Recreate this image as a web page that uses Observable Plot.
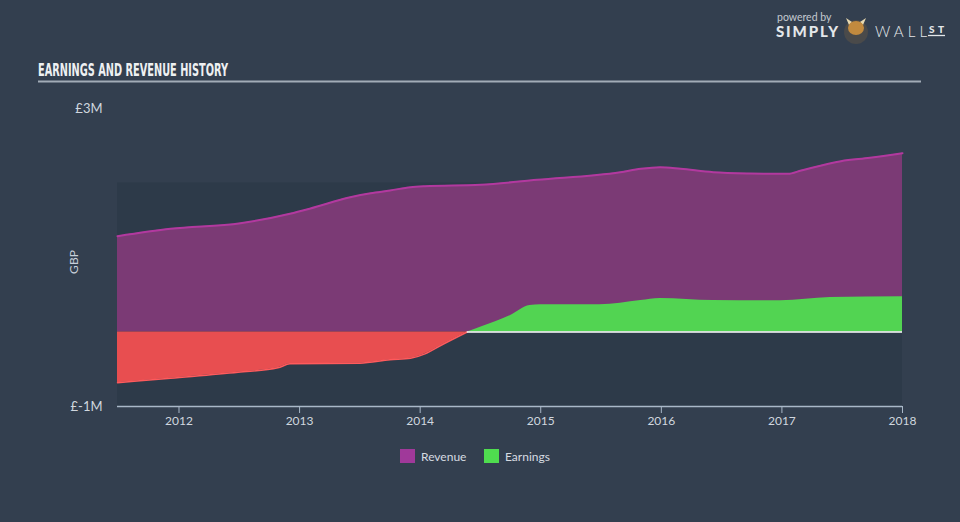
<!DOCTYPE html>
<html>
<head>
<meta charset="utf-8">
<script src="https://cdn.jsdelivr.net/npm/d3@7"></script>
<script src="https://cdn.jsdelivr.net/npm/@observablehq/plot@0.6"></script>
<style>
  html, body { margin: 0; padding: 0; background: #333f4f; }
  #wrap { position: relative; width: 960px; height: 522px; overflow: hidden; background: #333f4f; }
  #chart { position: absolute; left: 0; top: 0; }
  #overlay { position: absolute; left: 0; top: 0; pointer-events: none; }
</style>
</head>
<body>
<div id="wrap">
  <div id="chart"></div>
  <svg id="overlay" width="960" height="522" xmlns="http://www.w3.org/2000/svg">
    <text x="38" y="76" font-family="Liberation Sans Narrow, DejaVu Sans Condensed, sans-serif" font-weight="bold" font-size="18" fill="#eef0f2" textLength="190" lengthAdjust="spacingAndGlyphs">EARNINGS AND REVENUE HISTORY</text>
    <line x1="38" x2="921" y1="81.5" y2="81.5" stroke="#a2acb7" stroke-width="2"/>
    <text x="78" y="262" transform="rotate(-90 78 262)" text-anchor="middle" font-family="Lato, sans-serif" font-size="12" fill="#c8d0da">GBP</text>
    <!-- legend -->
    <rect x="400" y="449" width="15" height="14" fill="#a0399a"/>
    <text x="421" y="461" font-family="Lato, sans-serif" font-size="12" fill="#d6dbe1">Revenue</text>
    <rect x="484" y="449" width="15" height="14" fill="#4fdd4f"/>
    <text x="505" y="461" font-family="Lato, sans-serif" font-size="12" fill="#d6dbe1">Earnings</text>
    <!-- logo -->
    <text x="777" y="21" font-family="Lato, sans-serif" font-size="10.5" fill="#c4cad1">powered by</text>
    <text x="776" y="37" font-family="Lato, sans-serif" font-weight="900" font-size="15" letter-spacing="1" fill="#e4e7ea" textLength="63">SIMPLY</text>
    <circle cx="856" cy="32" r="12" fill="#4a4a4a"/>
    <path d="M846 18 L849 25 L852 22 Z M866 18 L863 25 L860 22 Z" fill="#e8d9b0"/>
    <ellipse cx="856" cy="28" rx="8" ry="7" fill="#c28a3e"/>
    <text x="875" y="37" font-family="Lato, sans-serif" font-weight="300" font-size="15" fill="#e4e7ea" textLength="52">WALL</text>
    <text x="929" y="33" font-family="Lato, sans-serif" font-weight="900" font-size="10" fill="#e4e7ea" textLength="15">ST</text>
    <line x1="928" x2="945" y1="35.5" y2="35.5" stroke="#e4e7ea" stroke-width="1.3"/>
  </svg>
</div>
<script>
// ---- data (GBP millions) ----
const revenueDates  = [2011.49, 2011.93, 2012.51, 2012.92, 2013.09, 2013.42, 2013.59, 2013.75, 2013.92, 2014.04, 2014.50, 2014.97, 2015.66, 2015.83, 2015.99, 2016.16, 2016.43, 2016.74, 2017.05, 2017.16, 2017.49, 2017.73, 2018.00];
const revenueValues = [1.286, 1.385, 1.460, 1.587, 1.658, 1.809, 1.863, 1.899, 1.944, 1.957, 1.976, 2.043, 2.145, 2.191, 2.212, 2.191, 2.145, 2.128, 2.123, 2.168, 2.293, 2.338, 2.400];

const earningsDates  = [2011.49, 2011.93, 2012.49, 2012.82, 2012.92, 2013.50, 2013.75, 2013.92, 2014.04, 2014.17, 2014.39, 2014.50, 2014.75, 2014.91, 2015.00, 2015.49, 2015.83, 2015.99, 2016.43, 2016.99, 2017.40, 2018.00];
const earningsValues = [-0.682, -0.620, -0.540, -0.481, -0.427, -0.419, -0.373, -0.352, -0.293, -0.181, 0.000, 0.064, 0.221, 0.356, 0.365, 0.365, 0.423, 0.450, 0.423, 0.419, 0.463, 0.472];

const xTicks = [2012, 2013, 2014, 2015, 2016, 2017, 2018];
const yTicks = [-1, 3];
const yDomain = [-1, 3];
const bandTop = 2;

// ---- build tables ----
const revenue = revenueDates.map((d, i) => ({date: d, value: revenueValues[i]}));
const earnings = earningsDates.map((d, i) => ({date: d, value: earningsValues[i]}));
const negEarnings = earnings.filter(d => d.value <= 0);
const posEarnings = earnings.filter(d => d.value >= 0);
const xExtent = d3.extent(revenueDates);
const crossing = posEarnings[0].date;

const curve = "monotone-x";

const chart = Plot.plot({
  width: 960,
  height: 522,
  marginLeft: 117,
  marginRight: 58,
  marginTop: 108,
  marginBottom: 116,
  style: {background: "transparent", color: "#c8d0da", fontFamily: "Lato, sans-serif", fontSize: "12px", overflow: "visible"},
  x: {domain: xExtent},
  y: {domain: yDomain},
  marks: [
    Plot.rect([{x1: xExtent[0], x2: xExtent[1], y1: yDomain[0], y2: bandTop}], {x1: "x1", x2: "x2", y1: "y1", y2: "y2", fill: "#2d3a49"}),
    Plot.areaY(revenue, {x: "date", y1: 0, y2: "value", fill: "#7b3a75", curve}),
    Plot.lineY(revenue, {x: "date", y: "value", stroke: "#b2399f", strokeWidth: 2, curve}),
    Plot.areaY(negEarnings, {x: "date", y1: 0, y2: "value", fill: "#e84e50", curve}),
    Plot.lineY(negEarnings, {x: "date", y: "value", stroke: "#ff5a5c", strokeWidth: 1.5, curve}),
    Plot.areaY(posEarnings, {x: "date", y1: 0, y2: "value", fill: "#52d452", curve}),
    Plot.ruleY([0], {x1: crossing, x2: xExtent[1], stroke: "#ffffff", strokeWidth: 1.5}),
    Plot.ruleY([yDomain[0]], {stroke: "#a9b8c8", strokeWidth: 1.5}),
    Plot.axisX({ticks: xTicks, tickFormat: d => String(d), tickSize: 7, tickPadding: 3, stroke: "#a9b8c8", fill: "#d0d7df", fontSize: 12, label: null}),
    Plot.axisY({ticks: yTicks, tickFormat: d => "£" + d + "M", tickSize: 0, tickPadding: 15, fill: "#d0d7df", fontSize: 13, label: null})
  ]
});
document.getElementById("chart").appendChild(chart);
</script>
</body>
</html>
